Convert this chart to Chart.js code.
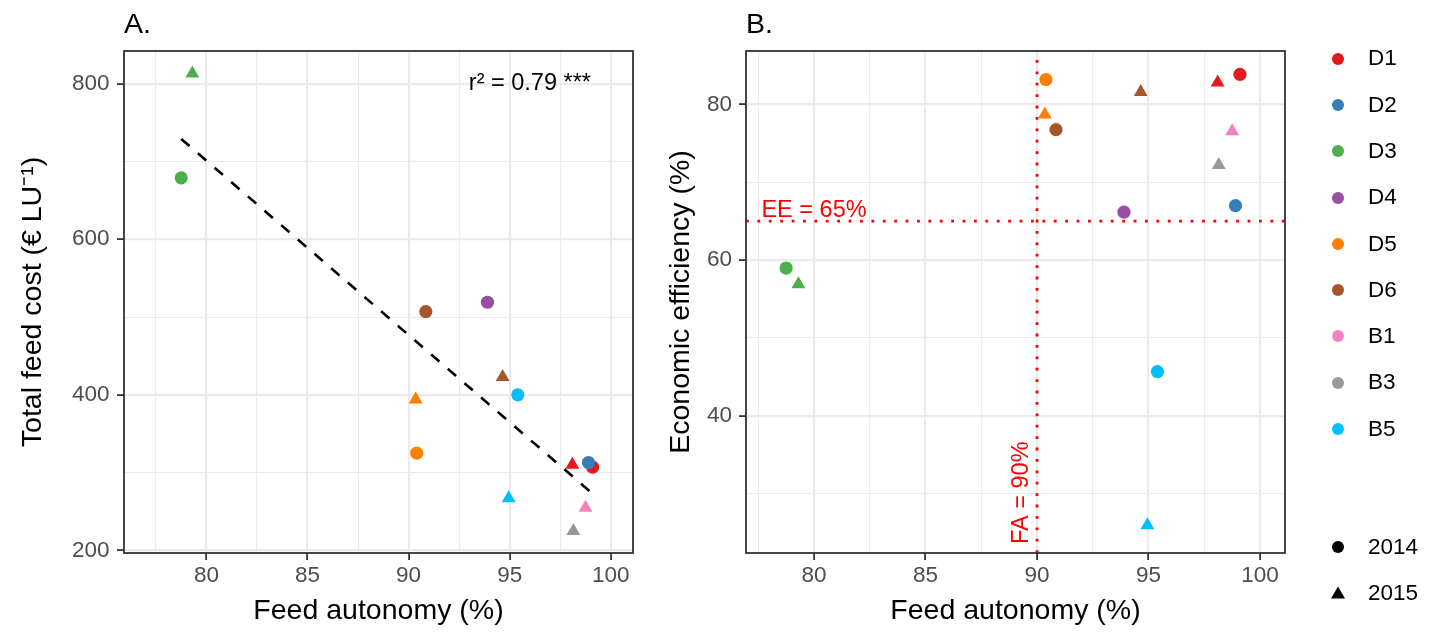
<!DOCTYPE html>
<html><head><meta charset="utf-8">
<script src="https://cdn.jsdelivr.net/npm/chart.js@4.4.1/dist/chart.umd.min.js"></script>
<style>
html,body{margin:0;padding:0;background:#fff;width:1440px;height:632px;overflow:hidden;font-family:'Liberation Sans',Arial,sans-serif}
#cA{position:absolute;left:0;top:0}
#cB{position:absolute;left:660px;top:0}
.lgText{position:absolute;font-size:22.5px;line-height:22.5px;height:22.5px;color:#000;white-space:nowrap}
.lgDot{position:absolute;width:12px;height:12px;border-radius:50%}
.lgTri{position:absolute;width:14px;height:12px;background:#000;clip-path:polygon(50% 0,100% 100%,0 100%)}
</style></head><body>
<canvas id="cA" width="660" height="632"></canvas>
<canvas id="cB" width="780" height="632"></canvas>
<div id="legend"></div>
<script>
// ---------------- data ----------------
const sites = ['D1','D2','D3','D4','D5','D6','B1','B3','B5'];
const siteColors = ['#E41A1C','#377EB8','#4DAF4A','#984EA3','#FF7F00','#A65628','#F781BF','#999999','#00BFFF'];
const years = ['2014','2015'];
const autonomy2014 = [99.1, 98.9, 78.75, 93.9, 90.4, 90.85, null, null, 95.4];
const autonomy2015 = [98.1, null, 79.3, null, 90.35, 94.65, 98.75, 98.15, 94.95];
const feedCost2014 = [307, 313, 679, 519, 325, 507, null, null, 400];
const feedCost2015 = [310, null, 813, null, 394, 423, 255, 225, 267];
const efficiency2014 = [83.85, 67.0, 58.97, 66.15, 83.2, 76.75, null, null, 45.66];
const efficiency2015 = [82.8, null, 56.87, null, 78.7, 81.6, 76.55, 72.2, 25.9];
const fitAutonomy = [78.75, 99.1];
const fitCost = [729, 273];
const eeThreshold = 65;
const faThreshold = 90;
const xTicksMajor = [80, 85, 90, 95, 100];
const xTicksMinor = [77.5, 82.5, 87.5, 92.5, 97.5];
const costTicksMajor = [200, 400, 600, 800];
const costTicksMinor = [300, 500, 700];
const effTicksMajor = [40, 60, 80];
const effTicksMinor = [30, 50, 70];

// ---------------- helpers ----------------
const FONT = "'Liberation Sans', Arial, sans-serif";
Chart.defaults.font.family = FONT;

function pointsFor(xs2014, xs2015, ys2014, ys2015, i) {
  const pts = [];
  if (xs2014[i] != null && ys2014[i] != null) pts.push({x: xs2014[i], y: ys2014[i], year: '2014'});
  if (xs2015[i] != null && ys2015[i] != null) pts.push({x: xs2015[i], y: ys2015[i], year: '2015'});
  return pts;
}
function siteDatasets(ys2014, ys2015) {
  return sites.map((s, i) => ({
    label: s,
    data: pointsFor(autonomy2014, autonomy2015, ys2014, ys2015, i),
    backgroundColor: siteColors[i],
    borderColor: siteColors[i],
    borderWidth: 0,
    pointStyle: c => (c.raw && c.raw.year === '2015') ? 'triangle' : 'circle',
    pointRadius: c => (c.raw && c.raw.year === '2015') ? 8 : 6.6,
    pointHoverRadius: c => (c.raw && c.raw.year === '2015') ? 8 : 6.6,
    order: -i
  }));
}
function axis(min, max, major, minor, opts, pad) {
  const all = major.concat(minor).sort((a, b) => a - b);
  const isMaj = c => c && c.tick && major.includes(c.tick.value);
  return Object.assign({
    type: 'linear', min, max,
    afterBuildTicks: ax => { ax.ticks = all.map(v => ({value: v})); },
    ticks: {
      autoSkip: false, maxRotation: 0, minRotation: 0, padding: pad,
      color: '#4D4D4D', font: {size: 22.5, family: FONT},
      callback: v => major.includes(v) ? String(v) : ''
    },
    grid: {
      color: '#EBEBEB',
      lineWidth: c => isMaj(c) ? 2.2 : 1.1,
      tickColor: c => isMaj(c) ? '#333333' : 'rgba(0,0,0,0)',
      tickWidth: c => isMaj(c) ? 1.8 : 0,
      tickLength: 7, drawTicks: true, drawOnChartArea: true
    },
    border: {display: false}
  }, opts);
}

const panelPlugin = {
  id: 'panel',
  afterDatasetsDraw(chart, args, o) {
    const ctx = chart.ctx, sx = chart.scales.x, sy = chart.scales.y;
    (o.texts || []).forEach(t => {
      ctx.save();
      ctx.translate(sx.getPixelForValue(t.x), sy.getPixelForValue(t.y));
      ctx.rotate(t.rot || 0);
      ctx.font = t.size + 'px ' + FONT;
      ctx.fillStyle = t.color;
      ctx.textAlign = 'center';
      ctx.textBaseline = 'middle';
      ctx.fillText(t.text, 0, 0);
      ctx.restore();
    });
  },
  afterDraw(chart, args, o) {
    const ctx = chart.ctx, a = chart.chartArea;
    ctx.save();
    ctx.strokeStyle = '#333333';
    ctx.lineWidth = 1.8;
    ctx.strokeRect(a.left, a.top, a.right - a.left, a.bottom - a.top);
    ctx.fillStyle = '#000';
    ctx.font = '28.5px ' + FONT;
    ctx.textAlign = 'left';
    ctx.textBaseline = 'alphabetic';
    ctx.fillText(o.label, a.left, 33);
    ctx.restore();
  }
};

const common = {
  responsive: false, animation: false, devicePixelRatio: 1,
  events: []
};
const titleFont = {size: 28.5, family: FONT};

// ---------------- Panel A ----------------
const dsA = siteDatasets(feedCost2014, feedCost2015);
dsA.push({
  label: 'fit', data: fitAutonomy.map((x, i) => ({x, y: fitCost[i]})),
  showLine: true, borderColor: '#000', borderWidth: 2.6, borderDash: [11, 11],
  pointRadius: 0, fill: false, order: -100
});
new Chart(document.getElementById('cA'), {
  type: 'scatter',
  data: {datasets: dsA},
  plugins: [panelPlugin],
  options: Object.assign({}, common, {
    layout: {padding: {top: 51, right: 27, left: 0, bottom: 0}},
    plugins: {
      legend: {display: false}, tooltip: {enabled: false},
      panel: {label: 'A.', texts: [{x: 96, y: 800, text: 'r\u00B2 = 0.79 ***', size: 23.5, color: '#000'}]}
    },
    scales: {
      x: axis(75.92, 101.1, xTicksMajor, xTicksMinor, {
        position: 'bottom',
        afterFit: s => { s.height = 79; },
        title: {display: true, text: 'Feed autonomy (%)', color: '#000', font: titleFont, padding: {top: 0, bottom: 3.6}}
      }, 2.5),
      y: axis(196.7, 842, costTicksMajor, costTicksMinor, {
        position: 'left',
        afterFit: s => { s.width = 124; },
        title: {display: true, text: 'Total feed cost (\u20AC LU\u207B\u00B9)', color: '#000', font: titleFont, padding: {top: 15.9, bottom: 0}}
      }, 7.5)
    }
  })
});

// ---------------- Panel B ----------------
const xMinB = 76.95, xMaxB = 101.12, yMinB = 22.35, yMaxB = 86.86;
const dsB = siteDatasets(efficiency2014, efficiency2015);
dsB.push({
  label: 'EE', data: [{x: xMinB, y: eeThreshold}, {x: xMaxB, y: eeThreshold}],
  showLine: true, borderColor: '#FF0000', borderWidth: 2.8, borderDash: [2.8, 8.6],
  pointRadius: 0, fill: false, order: 100
});
dsB.push({
  label: 'FA', data: [{x: faThreshold, y: yMinB}, {x: faThreshold, y: yMaxB}],
  showLine: true, borderColor: '#FF0000', borderWidth: 2.8, borderDash: [2.8, 8.6],
  pointRadius: 0, fill: false, order: 101
});
new Chart(document.getElementById('cB'), {
  type: 'scatter',
  data: {datasets: dsB},
  plugins: [panelPlugin],
  options: Object.assign({}, common, {
    layout: {padding: {top: 51, right: 155, left: 0, bottom: 0}},
    plugins: {
      legend: {display: false}, tooltip: {enabled: false},
      panel: {label: 'B.', texts: [
        {x: 80, y: 66.3, text: 'EE = 65%', size: 23.5, color: '#FF0000'},
        {x: 89.3, y: 30.1, text: 'FA = 90%', size: 23.5, color: '#FF0000', rot: -Math.PI / 2}
      ]}
    },
    scales: {
      x: axis(xMinB, xMaxB, xTicksMajor, xTicksMinor, {
        position: 'bottom',
        afterFit: s => { s.height = 79; },
        title: {display: true, text: 'Feed autonomy (%)', color: '#000', font: titleFont, padding: {top: 0, bottom: 3.6}}
      }, 2.5),
      y: axis(yMinB, yMaxB, effTicksMajor, effTicksMinor, {
        position: 'left',
        afterFit: s => { s.width = 86; },
        title: {display: true, text: 'Economic efficiency (%)', color: '#000', font: titleFont, padding: {top: 4.2, bottom: 0}}
      }, 7)
    }
  })
});

// ---------------- Legend ----------------
const lg = document.getElementById('legend');
sites.forEach((s, i) => {
  const cy = 58.6 + 46.3 * i;
  const d = document.createElement('div');
  d.className = 'lgDot';
  d.style.left = (1338 - 6) + 'px'; d.style.top = (cy - 6) + 'px';
  d.style.background = siteColors[i];
  lg.appendChild(d);
  const t = document.createElement('div');
  t.className = 'lgText'; t.textContent = s;
  t.style.left = '1368px'; t.style.top = (cy - 11.25) + 'px';
  lg.appendChild(t);
});
years.forEach((y, i) => {
  const cy = 547 + 46 * i;
  const m = document.createElement('div');
  m.className = i === 0 ? 'lgDot' : 'lgTri';
  if (i === 0) { m.style.background = '#000'; m.style.left = (1338 - 6) + 'px'; m.style.top = (cy - 6) + 'px'; }
  else { m.style.left = (1338 - 7) + 'px'; m.style.top = (cy - 6.5) + 'px'; }
  lg.appendChild(m);
  const t = document.createElement('div');
  t.className = 'lgText'; t.textContent = y;
  t.style.left = '1368px'; t.style.top = (cy - 11.25) + 'px';
  lg.appendChild(t);
});
</script>
</body></html>
